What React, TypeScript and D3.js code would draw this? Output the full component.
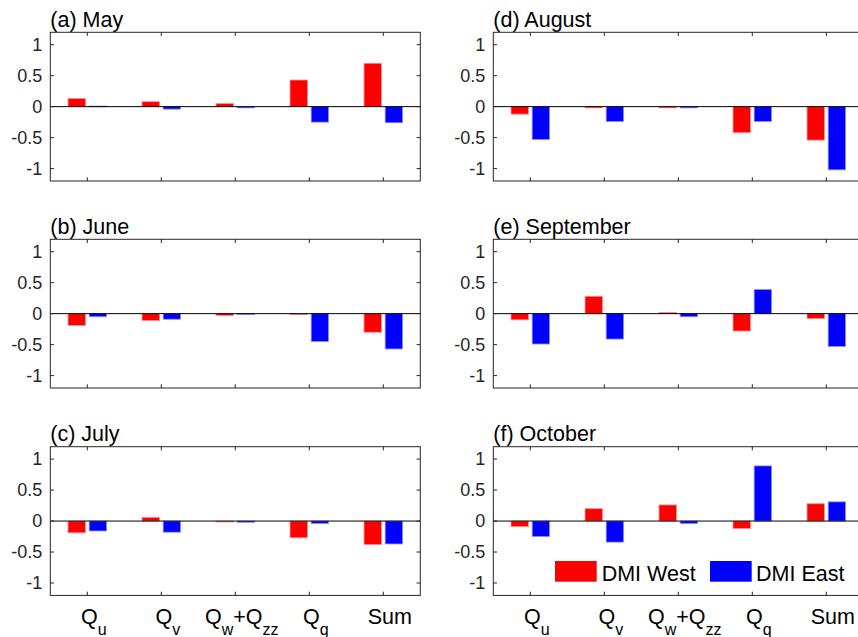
import React from "react";
import * as d3 from "d3";

// component labels (main part + subscript)
const categories: string[][] = [
  ["Q", "u"],
  ["Q", "v"],
  ["Q", "w", "+Q", "zz"],
  ["Q", "q"],
  ["Sum", ""],
];

const panelTitles = ["(a) May", "(b) June", "(c) July", "(d) August", "(e) September", "(f) October"];

// DMI West (red) per panel, order Qu, Qv, Qw+Qzz, Qq, Sum
const westMay = [0.13, 0.08, 0.05, 0.43, 0.7];
const westJune = [-0.19, -0.11, -0.03, -0.015, -0.3];
const westJuly = [-0.19, 0.06, -0.015, -0.27, -0.38];
const westAug = [-0.12, -0.02, -0.02, -0.42, -0.54];
const westSep = [-0.1, 0.28, 0.02, -0.28, -0.08];
const westOct = [-0.09, 0.2, 0.26, -0.12, 0.28];

// DMI East (blue)
const eastMay = [0.01, -0.04, -0.02, -0.25, -0.26];
const eastJune = [-0.05, -0.09, -0.015, -0.45, -0.57];
const eastJuly = [-0.16, -0.18, -0.02, -0.04, -0.37];
const eastAug = [-0.53, -0.24, -0.02, -0.24, -1.02];
const eastSep = [-0.49, -0.41, -0.05, 0.39, -0.53];
const eastOct = [-0.25, -0.34, -0.04, 0.89, 0.31];

const westSeries = [westMay, westJune, westJuly, westAug, westSep, westOct];
const eastSeries = [eastMay, eastJune, eastJuly, eastAug, eastSep, eastOct];

const yTicks = [-1, -0.5, 0, 0.5, 1];
const seriesNames = ["DMI West", "DMI East"];
const seriesColors = ["#ff0000", "#0000ff"];

const W = 858;
const H = 637;
const colLeft = [50.3, 493.3];
const rowTop = [32.3, 239.3, 446.7];
const pw = 370;
const ph = 148.7;
const axisColor = "#262626";
const font = "'Liberation Sans', Arial, Helvetica, sans-serif";
const tickLen = 3.7;

function Panel({ idx }: { idx: number }) {
  const col = Math.floor(idx / 3);
  const row = idx % 3;
  const left = colLeft[col];
  const top = rowTop[row];
  const x = d3.scaleLinear().domain([0.5, 5.5]).range([left, left + pw]);
  const y = d3.scaleLinear().domain([-1.2, 1.2]).range([top + ph, top]);
  const barW = x(0.735) - x(0.5);
  const offsets = [-0.143, 0.143];
  const data = [westSeries[idx], eastSeries[idx]];
  const xt = d3.range(1, 6);

  return (
    <g>
      <text x={left} y={top - 5.6} fontSize={21.5} fill="#000" fontFamily={font}>
        {panelTitles[idx]}
      </text>
      {data.map((vals, s) =>
        vals.map((v, i) => {
          const cx = x(i + 1 + offsets[s]);
          const y0 = y(Math.max(0, v));
          const y1 = y(Math.min(0, v));
          return (
            <rect
              key={`${s}-${i}`}
              x={cx - barW / 2}
              y={y0}
              width={barW}
              height={Math.max(0.8, y1 - y0)}
              fill={seriesColors[s]}
              stroke={s === 0 ? "#ff9090" : "#9090ff"}
              strokeWidth={0.8}
            />
          );
        })
      )}
      <line x1={x(0.5)} x2={x(5.5)} y1={y(0)} y2={y(0)} stroke="#000" strokeWidth={1} />
      <rect x={left} y={top} width={pw} height={ph} fill="none" stroke={axisColor} strokeWidth={1} />
      {xt.map((t) => (
        <g key={t}>
          <line x1={x(t)} x2={x(t)} y1={top} y2={top + tickLen} stroke={axisColor} />
          <line x1={x(t)} x2={x(t)} y1={top + ph} y2={top + ph - tickLen} stroke={axisColor} />
        </g>
      ))}
      {yTicks.map((t) => (
        <g key={t}>
          <line x1={left} x2={left + tickLen} y1={y(t)} y2={y(t)} stroke={axisColor} />
          <line x1={left + pw} x2={left + pw - tickLen} y1={y(t)} y2={y(t)} stroke={axisColor} />
          <text
            x={left - 8}
            y={y(t)}
            textAnchor="end"
            dominantBaseline="central"
            fontSize={18}
            fill={axisColor}
            fontFamily={font}
          >
            {d3.format("")(t).replace("−", "-")}
          </text>
        </g>
      ))}
      {row === 2 &&
        categories.map((parts, i) => (
          <text
            key={i}
            x={x(i + 1) + 6.5}
            y={top + ph + 29}
            textAnchor="middle"
            fontSize={21.5}
            fill="#000"
            fontFamily={font}
          >
            {parts.map((p, k) =>
              k % 2 === 0 ? (
                <tspan key={k} dy={k === 0 ? 0 : -11}>{p}</tspan>
              ) : p ? (
                <tspan key={k} dy={11} fontSize={16}>{p}</tspan>
              ) : null
            )}
          </text>
        ))}
      {idx === 5 &&
        seriesNames.map((n, s) => (
          <g key={n}>
            <rect x={555 + s * 155} y={561} width={41.7} height={20.7} fill={seriesColors[s]} />
            <text x={601.7 + s * 154.3} y={580.5} fontSize={21.5} fill="#000" fontFamily={font}>
              {n}
            </text>
          </g>
        ))}
    </g>
  );
}

export default function App() {
  return (
    <svg
      width={W}
      height={H}
      viewBox={`0 0 ${W} ${H}`}
      style={{ position: "absolute", left: 0, top: 0, background: "#fff" }}
    >
      <rect width={W} height={H} fill="#fff" />
      {d3.range(6).map((i) => (
        <Panel key={i} idx={i} />
      ))}
    </svg>
  );
}
